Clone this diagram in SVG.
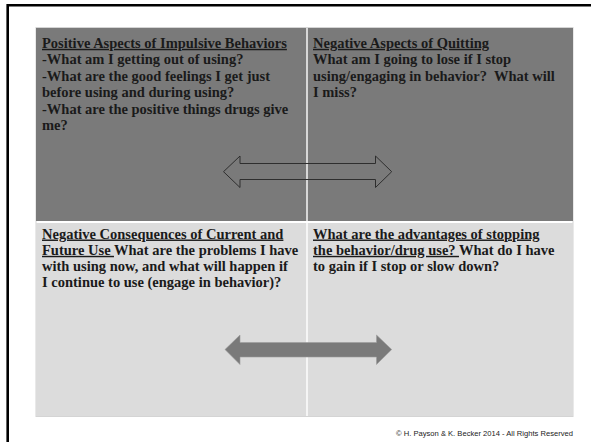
<svg xmlns="http://www.w3.org/2000/svg" width="591" height="442" viewBox="0 0 591 442">
<style>
.t{font-family:"Liberation Serif","Times New Roman",serif;font-weight:bold;font-size:14.5px;fill:#1a1a1a}
.u{text-decoration:underline}
.dark{fill:#7a7a7a}
.light{fill:#dcdcdc}
.copy{font-family:"Liberation Sans",Arial,sans-serif;font-size:7.6px;fill:#222}
</style>
<rect x="0" y="0" width="591" height="442" fill="#ffffff"/>
<path d="M7.7,442 V5.2 H591" fill="none" stroke="#000" stroke-width="2.6"/>
<rect x="36" y="27.5" width="537" height="389" fill="none" stroke="#d4d4d4" stroke-width="1"/>
<g id="cell-positive">
<rect class="dark" x="36" y="28" width="270.3" height="193"/>
<text class="t" x="42" y="47.8"><tspan class="u">Positive Aspects of Impulsive Behaviors</tspan></text>
<text class="t" x="42" y="64.3">-What am I getting out of using?</text>
<text class="t" x="42" y="80.8">-What are the good feelings I get just</text>
<text class="t" x="42" y="97.3">before using and during using?</text>
<text class="t" x="42" y="113.8">-What are the positive things drugs give</text>
<text class="t" x="42" y="130.3">me?</text>
</g>
<g id="cell-negative-quitting">
<rect class="dark" x="307.7" y="28" width="265.3" height="193"/>
<text class="t" x="313" y="47.8"><tspan class="u">Negative Aspects of Quitting</tspan></text>
<text class="t" x="313" y="64.3">What am I going to lose if I stop</text>
<text class="t" x="313" y="80.8" xml:space="preserve">using/engaging in behavior?  What will</text>
<text class="t" x="313" y="97.3">I miss?</text>
</g>
<g id="cell-negative-consequences">
<rect class="light" x="36" y="223" width="270.3" height="193"/>
<text class="t" x="42" y="238.5"><tspan class="u">Negative Consequences of Current and</tspan></text>
<text class="t" x="42" y="254.8" xml:space="preserve"><tspan class="u">Future Use </tspan>What are the problems I have</text>
<text class="t" x="42" y="271.1">with using now, and what will happen if</text>
<text class="t" x="42" y="287.4">I continue to use (engage in behavior)?</text>
</g>
<g id="cell-advantages">
<rect class="light" x="307.7" y="223" width="265.3" height="193"/>
<text class="t" x="313" y="238.5"><tspan class="u">What are the advantages of stopping</tspan></text>
<text class="t" x="313" y="254.8" xml:space="preserve"><tspan class="u">the behavior/drug use? </tspan>What do I have</text>
<text class="t" x="313" y="271.1">to gain if I stop or slow down?</text>
</g>
<g id="connectors">
<path d="M223.5,171.7 L240,156 V163.5 H375.5 V156 L391.7,171.7 L375.5,187.5 V179.5 H240 V187.5 Z" fill="none" stroke="#2e2e2e" stroke-width="1"/>
<path d="M225,349.5 L240,335 V342.5 H376.5 V335 L391.7,349.5 L376.5,364.5 V357 H240 V364.5 Z" fill="#7a7a7a" stroke="#9c9c9c" stroke-width="0.6"/>
</g>
<text class="copy" x="573" y="435.7" text-anchor="end">© H. Payson &amp; K. Becker 2014 - All Rights Reserved</text>
</svg>
